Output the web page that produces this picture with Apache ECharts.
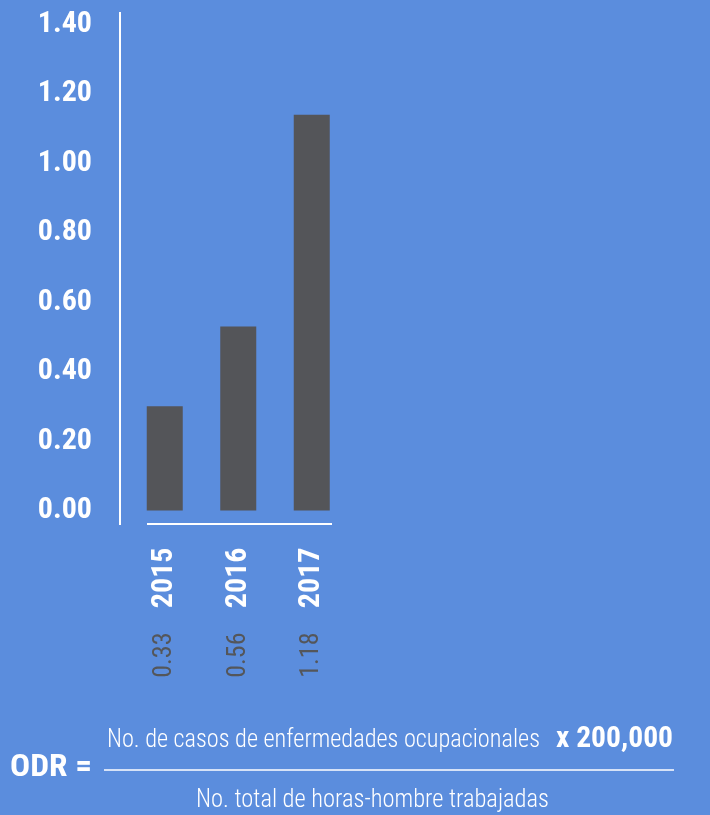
<!DOCTYPE html>
<html>
<head>
<meta charset="utf-8">
<script src="https://cdn.jsdelivr.net/npm/echarts@6/dist/echarts.min.js"></script>
<style>
  html, body { margin: 0; padding: 0; background: #5b8ddd; }
  #chart { width: 710px; height: 815px; }
</style>
</head>
<body>
<div id="chart"></div>
<script>
// data
const years = ['2015', '2016', '2017']
const barValues = [0.30, 0.53, 1.14]
const valueLabels = ['0.33', '0.56', '1.18']
const yMin = 0
const yMax = 1.4
const yStep = 0.2

const FONT = '"Roboto Condensed", "Liberation Sans Narrow", "DejaVu Sans Condensed", sans-serif'
const WHITE = '#ffffff'
const BAR = '#545559'
const GREY = '#54565a'

// squeeze a text to the width it has in the picture
const ctx = document.createElement('canvas').getContext('2d')
function fitText(text, font, x, y, targetWidth) {
  ctx.font = font
  const w = ctx.measureText(text).width
  return {
    type: 'text',
    x: x,
    y: y,
    scaleX: targetWidth / w,
    style: { text: text, font: font, fill: WHITE, align: 'left', verticalAlign: 'middle' }
  }
}

const chart = echarts.init(document.getElementById('chart'))

const option = {
  backgroundColor: '#5b8ddd',
  animation: false,
  grid: {
    left: 128,
    top: 24.5,
    width: 220.5,
    height: 486
  },
  xAxis: [
    {
      type: 'category',
      data: years,
      axisLine: { show: false },
      axisTick: { show: false },
      axisLabel: {
        rotate: 90,
        margin: 37,
        color: WHITE,
        fontFamily: FONT,
        fontWeight: 'bold',
        fontSize: 30
      }
    },
    {
      type: 'category',
      position: 'bottom',
      data: valueLabels,
      axisLine: { show: false },
      axisTick: { show: false },
      axisLabel: {
        rotate: 90,
        margin: 122,
        color: GREY,
        fontFamily: FONT,
        fontSize: 26
      }
    }
  ],
  yAxis: {
    type: 'value',
    min: yMin,
    max: yMax,
    interval: yStep,
    axisLine: { show: false },
    axisTick: { show: false },
    splitLine: { show: false },
    axisLabel: {
      margin: 36,
      color: WHITE,
      fontFamily: FONT,
      fontWeight: 'bold',
      fontSize: 30,
      formatter: (v) => v.toFixed(2)
    }
  },
  series: [
    {
      type: 'bar',
      xAxisIndex: 0,
      data: barValues,
      barWidth: 36,
      itemStyle: { color: BAR }
    }
  ],
  graphic: [
    // axis lines
    { type: 'line', shape: { x1: 120, y1: 12, x2: 120, y2: 525 }, style: { stroke: WHITE, lineWidth: 2 } },
    { type: 'line', shape: { x1: 147, y1: 524, x2: 332, y2: 524 }, style: { stroke: WHITE, lineWidth: 2 } },
    // formula
    fitText('ODR =', 'bold 31px ' + FONT, 10, 768, 82),
    fitText('No. de casos de enfermedades ocupacionales', '300 25px ' + FONT, 107, 741, 433),
    fitText('x 200,000', 'bold 30px ' + FONT, 556, 739, 117),
    { type: 'line', shape: { x1: 104, y1: 770, x2: 674, y2: 770 }, style: { stroke: WHITE, lineWidth: 1.5 } },
    fitText('No. total de horas-hombre trabajadas', '300 25px ' + FONT, 196, 801, 353)
  ]
}

chart.setOption(option)
</script>
</body>
</html>
